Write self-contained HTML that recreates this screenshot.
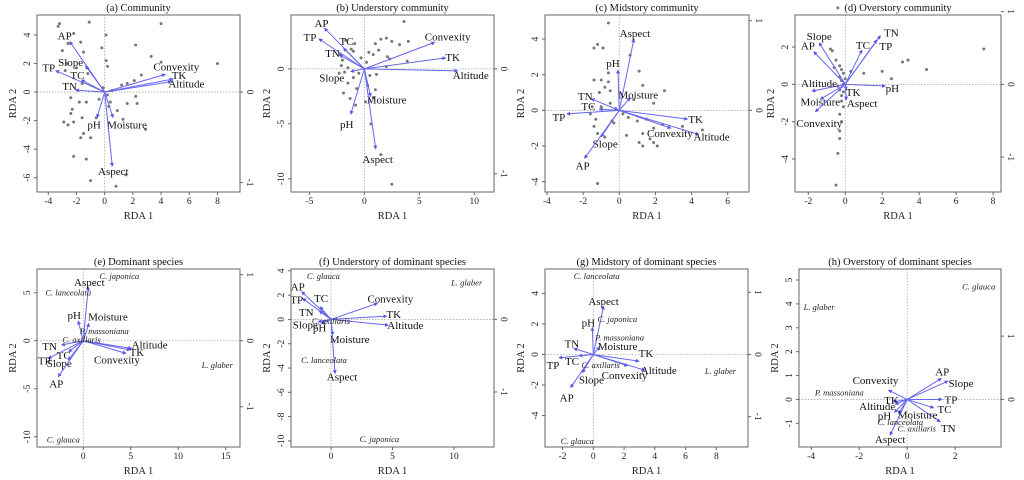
<!DOCTYPE html>
<html><head><meta charset="utf-8">
<style>
body{margin:0;background:#fff;}
svg{display:block;font-family:"Liberation Serif",serif;}
</style></head>
<body>
<svg id="fig" width="1024" height="480" viewBox="0 0 1024 480" xmlns="http://www.w3.org/2000/svg">
<defs>
<marker id="ah" viewBox="0 0 6 6" refX="5" refY="3" markerWidth="4" markerHeight="4" orient="auto"><path d="M0,0 L6,3 L0,6 z" fill="#5555ee"/></marker>
</defs>
</svg>
<script>
// ---------- data ----------
const panelTitles = ["(a)  Community","(b) Understory community","(c) Midstory community","(d) Overstory community","(e)  Dominant species","(f) Understory of dominant species","(g) Midstory of dominant species","(h) Overstory of dominant species"];
const xTicks = [[-4,-2,0,2,4,6,8],[-5,0,5,10],[-4,-2,0,2,4,6],[-2,0,2,4,6,8],[0,5,10,15],[0,5,10],[-2,0,2,4,6,8],[-4,-2,0,2]];
const yTicks = [[-6,-4,-2,0,2,4],[-10,-5,0],[-4,-2,0,2,4],[-4,-2,0,2],[-10,-5,0,5],[-10,-8,-6,-4,-2,0,2,4],[-4,-2,0,2,4],[-1,0,1,2,3,4,5]];
const rightTicks = [[0,-1],[0,-1],[1,0],[1,0,-1],[1,0,-1],[0,-1],[1,0,-1],[1,0]];
const rightScale = [6.34,9.55,5.03,3.9,6.875,5.97,4.07,2.65];
const xLims = [[-4.8,9.6],[-6.68,11.8],[-4.11,7.18],[-2.72,8.43],[-4.87,16.5],[-3.25,13.25],[-3.14,10.06],[-4.51,3.91]];
const yLims = [[-7.0,5.4],[-11.2,4.9],[-4.58,5.35],[-5.77,3.72],[-11.07,7.47],[-10.5,4.15],[-6.06,5.6],[-1.99,5.46]];

// arrows: [name, x, y]
const arrowsA = [["AP",-2.48,3.54],["TP",-3.47,1.5],["Slope",-1.35,1.83],["TC",-1.65,0.85],["TN",-2.06,0.14],["Convexity",4.3,1.24],["TK",4.85,0.92],["Altitude",4.73,0.73],["pH",-0.54,-1.78],["Moisture",0.59,-1.78],["Aspect",0.54,-5.19]];
const arrowsB = [["AP",-3.63,3.7],["TP",-4.14,2.73],["TC",-1.9,1.88],["TN",-2.27,1.27],["Slope",-1.24,-0.24],["Convexity",6.4,2.42],["TK",7.4,1.0],["Altitude",8.5,-0.18],["Moisture",0.57,-2.5],["pH",-1.24,-4.12],["Aspect",1.03,-7.27]];
const arrowsC = [["Aspect",0.81,4.0],["pH",-0.07,2.26],["Moisture",0.61,0.71],["TN",-1.55,0.65],["TC",-1.1,0.07],["TP",-2.9,-0.2],["TK",3.78,-0.49],["Altitude",4.39,-1.35],["Convexity",2.86,-1.0],["Slope",-1.0,-1.48],["AP",-1.92,-2.69]];
const arrowsD = [["TN",1.9,2.61],["TP",1.71,2.38],["TC",0.9,1.84],["Slope",-1.41,2.23],["AP",-1.7,1.75],["Altitude",-1.8,-0.36],["Moisture",-1.35,-0.8],["Convexity",-1.62,-1.47],["pH",2.17,-0.09],["TK",0.05,-0.3],["Aspect",0.05,-0.84]];
const arrowsE = [["Aspect",0.53,5.6],["Moisture",0.6,1.8],["pH",-0.53,2.05],["TN",-2.28,-0.45],["TC",-1.54,-1.15],["TP",-3.68,-1.84],["Slope",-1.58,-2.0],["AP",-2.63,-3.75],["Altitude",5.09,-0.8],["TK",4.91,-0.97],["Convexity",4.49,-1.32]];
const arrowsF = [["AP",-2.38,2.28],["TP",-2.3,1.73],["TC",-0.89,1.04],["TN",-0.95,0.69],["Slope",-1.03,-0.19],["pH",-0.76,-0.33],["Convexity",3.77,1.32],["TK",4.53,0.27],["Altitude",4.66,-0.47],["Moisture",0.14,-1.29],["Aspect",0.33,-4.45]];
const arrowsG = [["Aspect",0.67,3.17],["pH",-0.06,1.77],["Moisture",0.41,0.5],["TN",-1.26,0.39],["TC",-0.93,-0.09],["TP",-2.23,-0.22],["TK",2.97,-0.44],["Altitude",3.35,-1.03],["Convexity",2.23,-0.74],["Slope",-0.71,-1.18],["AP",-1.47,-2.16]];
const arrowsH = [["AP",1.42,0.88],["Slope",1.7,0.77],["TP",1.45,0],["TC",1.1,-0.35],["TN",1.38,-0.94],["Convexity",-0.78,0.39],["TK",-0.57,-0.1],["Altitude",-0.5,-0.2],["pH",-0.53,-0.54],["Moisture",-0.36,-0.59],["Aspect",-0.71,-1.49]];
const allArrows = [arrowsA,arrowsB,arrowsC,arrowsD,arrowsE,arrowsF,arrowsG,arrowsH];

// site scores (community panels)
const sitesA = [[-3.2,4.8],[-3.3,4.6],[-1.1,4.9],[-2.6,3.4],[-2.2,4.1],[-3,2.9],[-1.7,3.5],[-1.5,2.8],[-0.2,3.1],[0.1,2.2],[0.2,1.8],[-2.7,2],[-2.8,1.5],[-2,1.7],[-1.2,1.3],[-1.6,0.6],[-2.4,-0.4],[-1.8,-0.7],[-1.3,-0.7],[-2.3,-1.2],[-2.4,-1.5],[-2.9,-2.1],[-2.6,-2.3],[-2.2,-2.1],[-1.6,-1.8],[-1.7,-3.2],[-1.5,-2.9],[-1,-3.2],[-2.2,-4.5],[-1.3,-4.7],[-1,-6.2],[0.8,-6.6],[0.3,-1],[0.9,-1.3],[1.3,-1.9],[1.2,0.5],[1.6,0.6],[2.1,0.8],[2.6,1.2],[2.2,-0.3],[2.3,-0.8],[2.9,-2.6],[1.6,-0.8],[2.2,3.3],[3.3,2.5],[4,4.8],[4,2.1],[8,2],[0.2,-0.2],[-0.4,-0.5],[0.5,0.1],[-0.1,0.3],[0.1,4],[-0.6,-1.8],[1.5,-5.8],[0.4,-0.7]];
const sitesB = [[3.6,4.3],[2,2.8],[2.5,2.5],[1.5,2.7],[1,2.3],[-1.7,2.6],[-1.2,1.8],[-2.2,1.3],[-2,0.8],[-2.1,0.3],[-1.8,-0.3],[-2.3,-0.4],[-1.5,0.1],[-1,1.6],[0.4,1.5],[0.8,1.3],[1.3,1.7],[2.1,1.1],[2.3,0.9],[3.9,0.7],[2,0.2],[0.5,-0.6],[1.1,-0.5],[-1,-0.8],[-1.5,-1.3],[-0.7,-1.8],[0.3,-1.5],[1,-1.9],[-1.9,-2.2],[-1.3,-2.7],[-0.8,-3.3],[0.1,-3],[0.8,-2.6],[0.6,-5],[1.5,-7.8],[2.5,-10.5],[4,2.5],[-0.3,1],[0.2,0.6],[-0.5,-0.4],[-0.9,2.3],[3.2,2.2]];
const sitesC = [[-0.6,4.9],[-1.2,3.7],[-1.4,3.5],[-0.9,3.5],[0.6,3.1],[-1.4,1.7],[-1,1.7],[-0.6,1.6],[-0.6,2.1],[-0.8,1.3],[-0.5,1.1],[-1.1,1],[1.1,2.2],[1.3,1.4],[2.5,1.1],[1.9,0.4],[0.8,0.6],[-1.5,0.2],[-1,0.2],[-0.5,0.4],[-1.6,-0.2],[-1.3,-0.5],[-1.4,-0.9],[-1.2,-1.3],[-0.8,-1.5],[-0.4,-0.6],[0.5,-0.4],[1,-0.6],[1.5,-0.5],[2.4,-0.8],[1.9,-1],[1.3,-1.3],[1.1,-1.8],[1.3,-2],[1.9,-1.8],[2.1,-2],[1.7,-1.6],[4.6,-1.1],[3.5,-0.9],[0.4,-1.4],[-1.2,-4.1],[-0.3,-0.7],[0.2,-0.2],[-0.2,0.1]];
const sitesD = [[-0.4,4.1],[-0.8,1.9],[-0.7,1.8],[-0.5,1.3],[-0.3,1],[-0.2,0.8],[-0.1,0.6],[-0.3,0.4],[-0.2,0.2],[-0.1,0],[-0.3,-0.3],[-0.2,-0.6],[-0.2,-0.9],[-0.1,-1.2],[-0.3,-1.6],[-0.2,-2],[-0.3,-2.5],[-0.3,-2.9],[-0.4,-3.7],[-0.5,-5.4],[0.3,0.7],[1,0.6],[2,0.7],[3.1,1.2],[3.4,1.3],[4.4,0.8],[7.5,1.9],[2.5,0.3],[-0.6,0.9],[-0.4,-0.1],[-0.1,-0.4],[0,0.3]];
const allSites = [sitesA,sitesB,sitesC,sitesD,[],[],[],[]];

// species scores (dominant species panels): [name, x, y]
const speciesE = [["C. japonica",3.79,6.74],["C. lanceolata",-1.58,5.03],["P. massoniana",2.21,1.0],["C. axillaris",-0.18,0.14],["L. glaber",14.1,-2.53],["C. glauca",-2.1,-10.28]];
const speciesF = [["C. glauca",-0.62,3.57],["L. glaber",11.03,3.02],["C. axillaris",0,-0.14],["C. lanceolata",-0.57,-3.35],["C. japonica",3.93,-9.86]];
const speciesG = [["C. lanceolata",0.22,5.14],["C. japonica",1.56,2.32],["P. massoniana",1.71,1.11],["C. axillaris",0.48,-0.7],["L. glaber",8.27,-1.07],["C. glauca",-1.04,-5.66]];
const speciesH = [["C. glauca",2.98,4.72],["L. glaber",-3.67,3.88],["P. massoniana",-2.83,0.29],["C. lanceolata",-0.29,-0.94],["C. axillaris",0.4,-1.22]];
const allSpecies = [[],[],[],[],speciesE,speciesF,speciesG,speciesH];

// ---------- layout (pixel boxes & label offsets) ----------
const boxes = [[37,15,240,192],[291,15,494,192],[545,15,749,192],[795,15,1001,192],[37,269,240,447],[291,269,494,447],[545,269,748,447],[799,269,1001,447]];
const labelOff = [
 {AP:[-5,-6],TP:[-7,-3],Slope:[-15,-4],TC:[-4,-5],TN:[-6,-4],Convexity:[11,-8],TK:[6,-4],Altitude:[15,2],pH:[-3,7],Moisture:[14,7],Aspect:[1,5]},
 {AP:[-3,-5],TP:[-9,-2],TC:[3,-7],TN:[-7,-2],Slope:[-19,6],Convexity:[13,-6],TK:[7,-1],Altitude:[13,4],Moisture:[16,3],pH:[-4,10],Aspect:[2,10]},
 {Aspect:[1,-6],pH:[-5,-7],Moisture:[8,-3],TN:[-6,-3],TC:[-11,-3],TP:[-8,3],TK:[8,0],Altitude:[13,2],Convexity:[-1,5],Slope:[4,7],AP:[-2,7]},
 {TN:[11,-3],TP:[9,6],TC:[1,-5],Slope:[0,-7],AP:[-6,-6],Altitude:[7,-8],Moisture:[0,2],Convexity:[4,11],pH:[7,2],TK:[7,2],Aspect:[16,3]},
 {Aspect:[1,-5],Moisture:[19,-7],pH:[-4,-6],TN:[-12,1],TC:[-5,3],TP:[-4,2],Slope:[-9,3],AP:[-2,7],Altitude:[18,-4],TK:[7,2],Convexity:[-9,6]},
 {AP:[-4,-5],TP:[-6,1],TC:[1,-9],TN:[-13,1],Slope:[-13,3],pH:[-2,4],Convexity:[13,-5],TK:[7,-2],Altitude:[17,0],Moisture:[17,4],Aspect:[7,3]},
 {Aspect:[0,-5],pH:[-4,-5],Moisture:[18,-1],TN:[-2,-5],TC:[-7,5],TP:[-6,7],TK:[7,-8],Altitude:[14,0],Convexity:[-3,9],Slope:[9,7],AP:[-4,10]},
 {AP:[1,-7],Slope:[13,2],TP:[9,0],TC:[11,1],TN:[8,6],Convexity:[-13,-10],TK:[-2,-2],Altitude:[-18,2],pH:[-10,3],Moisture:[19,1],Aspect:[0,4]}
];

// ---------- drawing ----------
const svg = document.getElementById('fig');
const NS = 'http://www.w3.org/2000/svg';
function mk(tag, attrs, parent, text){
  const e = document.createElementNS(NS, tag);
  for (const k in attrs) e.setAttribute(k, attrs[k]);
  if (text !== undefined) e.textContent = text;
  (parent||svg).appendChild(e);
  return e;
}
const letters = 'abcdefgh';
boxes.forEach((b, i) => {
  const [L,T,R,B] = b;
  const [x0,x1] = xLims[i], [y0,y1] = yLims[i];
  const sx = v => L + (v - x0) / (x1 - x0) * (R - L);
  const sy = v => B - (v - y0) / (y1 - y0) * (B - T);
  const g = mk('g', {});
  
  

  // zero lines
  const zx = mk('line', {x1:sx(0), x2:sx(0), y1:T, y2:B, stroke:'#aaa', 'stroke-width':0.8, 'stroke-dasharray':'1.5,1.5'}, g);
  
  
  const zy = mk('line', {x1:L, x2:R, y1:sy(0), y2:sy(0), stroke:'#aaa', 'stroke-width':0.8, 'stroke-dasharray':'1.5,1.5'}, g);
  
  

  // sites
  allSites[i].forEach(p => {
    const c = mk('circle', {cx:sx(p[0]), cy:sy(p[1]), r:1.5, fill:'#777'}, g);
    
    
  });

  // arrows
  allArrows[i].forEach(a => {
    const ln = mk('line', {x1:sx(0), y1:sy(0), x2:sx(a[1]), y2:sy(a[2]), stroke:'#6666ee', 'stroke-width':1, 'marker-end':'url(#ah)'}, g);
    
    
    const o = labelOff[i][a[0]] || [0,0];
    const t = mk('text', {x:sx(a[1]) + o[0], y:sy(a[2]) + o[1] + 4, 'font-size':11, 'text-anchor':'middle', fill:'#111'}, g, a[0]);
    
    
  });

  // species
  allSpecies[i].forEach(s => {
    const t = mk('text', {x:sx(s[1]), y:sy(s[2]) + 3, 'font-size':8.5, 'font-style':'italic', 'text-anchor':'middle', fill:'#222'}, g, s[0]);
    
    
  });

  // box
  const bx = mk('rect', {x:L, y:T, width:R-L, height:B-T, fill:'none', stroke:'#666', 'stroke-width':1}, g);
  
  

  // x ticks
  xTicks[i].forEach(v => {
    mk('line', {x1:sx(v), x2:sx(v), y1:B, y2:B+3, stroke:'#666'}, g);
    const t = mk('text', {x:sx(v), y:B+12, 'font-size':9.5, 'text-anchor':'middle', fill:'#222'}, g, v);
    
    
  });
  // y ticks
  yTicks[i].forEach(v => {
    mk('line', {x1:L-3, x2:L, y1:sy(v), y2:sy(v), stroke:'#666'}, g);
    const t = mk('text', {x:L-7, y:sy(v), 'font-size':9.5, 'text-anchor':'middle', fill:'#222', transform:`rotate(-90 ${L-7} ${sy(v)})`}, g, v);
    
    
  });
  // right ticks
  rightTicks[i].forEach(v => {
    const yy = sy(v * rightScale[i]);
    mk('line', {x1:R, x2:R+3, y1:yy, y2:yy, stroke:'#666'}, g);
    const t = mk('text', {x:R+7, y:yy, 'font-size':9.5, 'text-anchor':'middle', fill:'#222', transform:`rotate(90 ${R+7} ${yy})`}, g, v);
    
    
  });

  // titles and axis labels
  const tt = mk('text', {x:(L+R)/2, y:T-4, 'font-size':10.5, 'text-anchor':'middle', fill:'#111'}, g, panelTitles[i]);
  
  
  const xl = mk('text', {x:(L+R)/2, y:B+27, 'font-size':10.5, 'text-anchor':'middle', fill:'#222'}, g, 'RDA 1');
  
  
  const yc = (T+B)/2, yx = L-21;
  const yl = mk('text', {x:yx, y:yc, 'font-size':10.5, 'text-anchor':'middle', fill:'#222', transform:`rotate(-90 ${yx} ${yc})`}, g, 'RDA 2');
  
  
});
</script>
</body></html>
